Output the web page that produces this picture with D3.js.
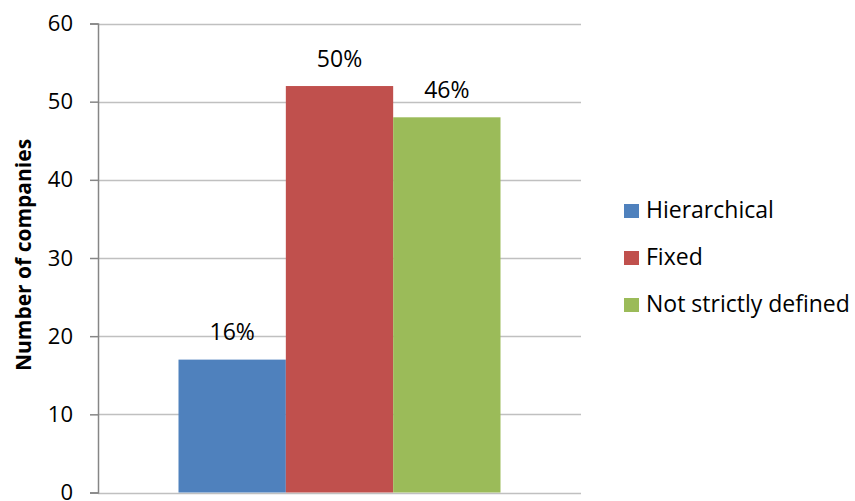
<!DOCTYPE html>
<html>
<head>
<meta charset="utf-8">
<script src="https://cdn.jsdelivr.net/npm/d3@7"></script>
<style>
  html, body { margin: 0; padding: 0; background: #fff; }
  svg { display: block; }
  text { font-family: "Open Sans", "Noto Sans", sans-serif; fill: #000; }
</style>
</head>
<body>
<svg id="chart" width="855" height="501"></svg>
<script>
const categories = ["Hierarchical", "Fixed", "Not strictly defined"];
const values = [17, 52, 48];
const percentLabels = ["16%", "50%", "46%"];
const colors = ["#4F81BD", "#C0504D", "#9BBB59"];
const yTicks = [0, 10, 20, 30, 40, 50, 60];
const yTitle = "Number of companies";

const svg = d3.select("#chart");
const margin = { left: 98, right: 274, top: 23.5, bottom: 8.5 };
const W = 855, H = 501;

const y = d3.scaleLinear().domain([0, 60]).range([H - margin.bottom, margin.top]);
const x0 = d3.scaleBand().domain(["g"]).range([margin.left, W - margin.right]).paddingInner(0).paddingOuter(0.25);
const x1 = d3.scaleBand().domain(categories).range([0, x0.bandwidth()]).padding(0);

// gridlines
svg.append("g")
  .selectAll("line")
  .data(yTicks)
  .join("line")
  .attr("x1", margin.left).attr("x2", W - margin.right)
  .attr("y1", d => Math.round(y(d)) + 0.5).attr("y2", d => Math.round(y(d)) + 0.5)
  .attr("stroke", "#c0c0c0").attr("stroke-width", 1.5);

// bars
const g = svg.append("g").attr("transform", `translate(${x0("g")},0)`);
g.selectAll("rect")
  .data(values)
  .join("rect")
  .attr("x", (d, i) => x1(categories[i]))
  .attr("width", x1.bandwidth())
  .attr("y", d => y(d))
  .attr("height", d => y(0) - y(d))
  .attr("fill", (d, i) => colors[i]);

// value labels
g.selectAll("text.lbl")
  .data(values)
  .join("text")
  .attr("class", "lbl")
  .attr("x", (d, i) => x1(categories[i]) + x1.bandwidth() / 2)
  .attr("y", d => y(d) - 19.5)
  .attr("text-anchor", "middle")
  .attr("font-size", 23)
  .text((d, i) => percentLabels[i]);

// y axis
const yAxis = d3.axisLeft(y).tickValues(yTicks).tickSize(8).tickPadding(17).tickFormat(d3.format("d"));
const ya = svg.append("g").attr("transform", `translate(${margin.left},0)`).call(yAxis);
ya.select(".domain").attr("stroke", "#868686").attr("stroke-width", 1.5);
ya.selectAll(".tick line").attr("stroke", "#868686").attr("stroke-width", 1.5);
ya.selectAll(".tick text").attr("font-size", 22).attr("font-family", "Open Sans, sans-serif").attr("fill", "#000");

// y title
svg.append("text")
  .attr("transform", `translate(31,${(y(0) + y(60)) / 2 - 3}) rotate(-90)`)
  .attr("text-anchor", "middle")
  .attr("font-size", 21)
  .attr("font-weight", "bold")
  .text(yTitle);

// legend
const legend = svg.append("g").attr("transform", "translate(624,218)");
const items = legend.selectAll("g").data(categories).join("g")
  .attr("transform", (d, i) => `translate(0,${i * 47})`);
items.append("rect").attr("x", 0).attr("y", -14).attr("width", 15).attr("height", 14)
  .attr("fill", (d, i) => colors[i]);
items.append("text").attr("x", 22).attr("y", 0)
  .attr("font-size", 23).text(d => d);
</script>
</body>
</html>
